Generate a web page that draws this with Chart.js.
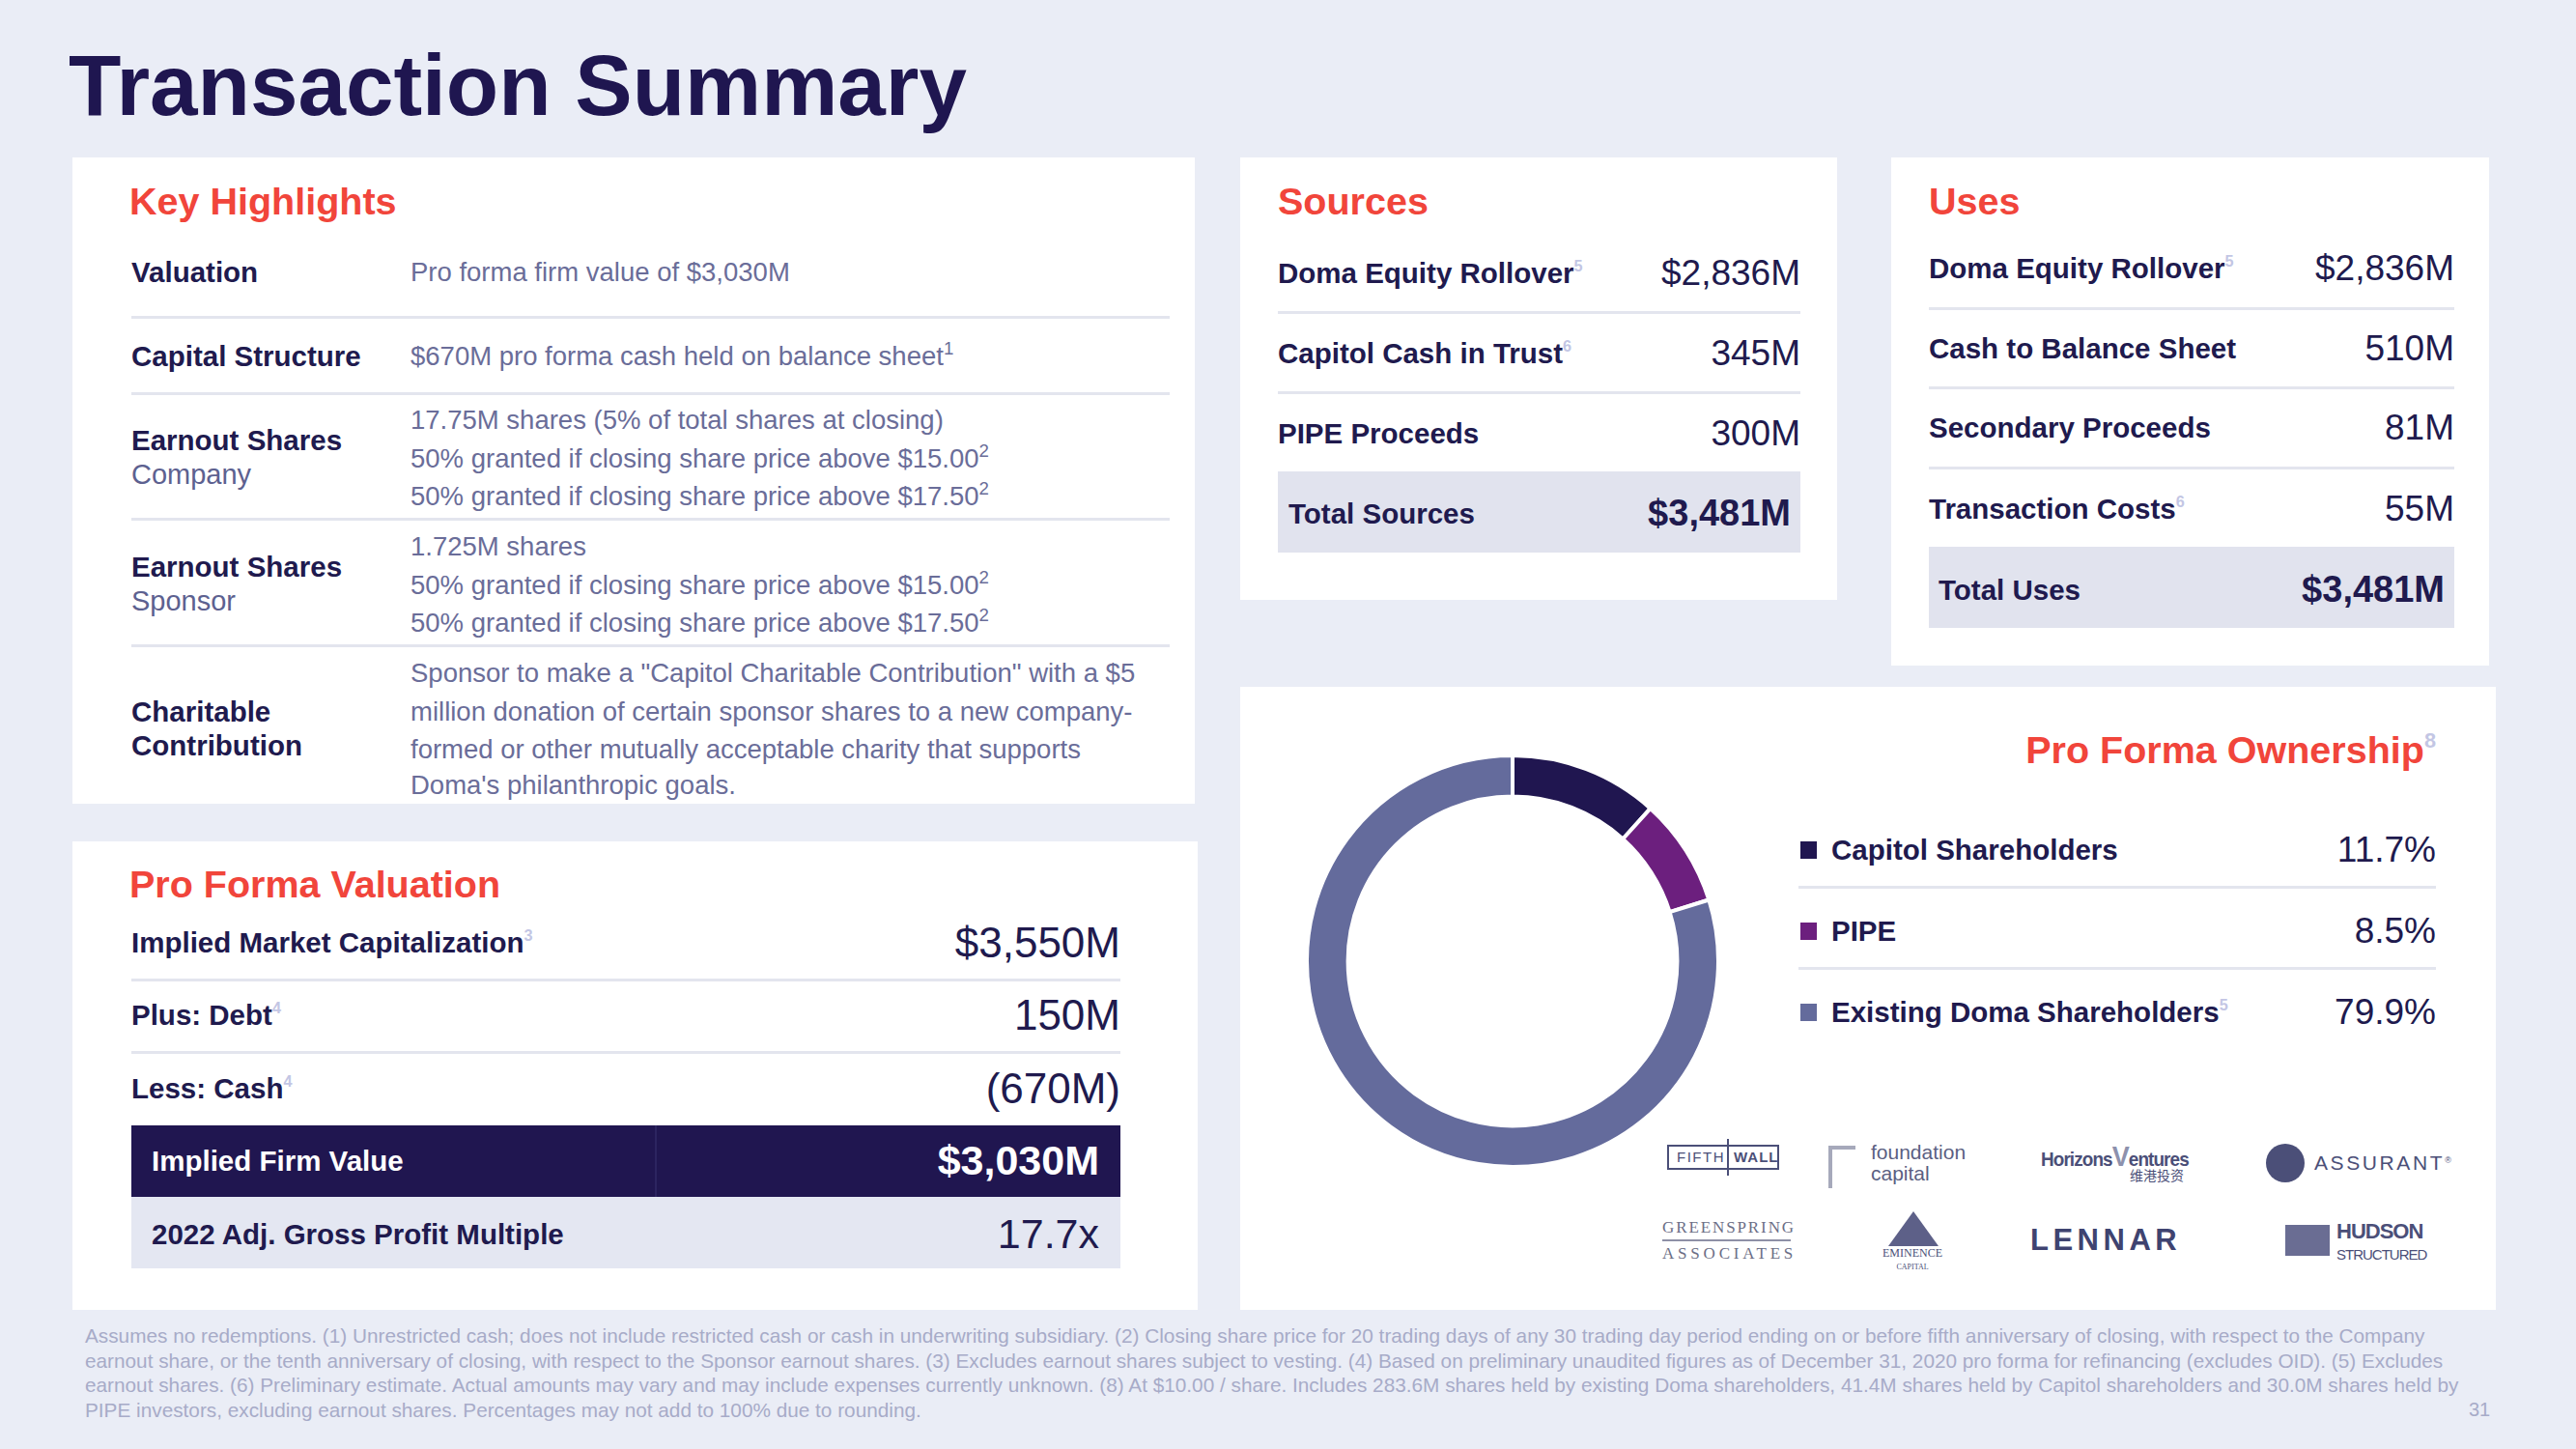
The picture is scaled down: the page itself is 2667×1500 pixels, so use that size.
<!DOCTYPE html>
<html lang="en">
<head>
<meta charset="utf-8">
<title>Transaction Summary</title>
<script src="https://cdn.jsdelivr.net/npm/chart.js@4.4.1/dist/chart.umd.min.js"></script>
<style>
  html, body { margin: 0; padding: 0; }
  body {
    width: 2667px; height: 1500px; position: relative; overflow: hidden;
    background: #eaedf6; color: #201a4e;
    font-family: "Liberation Sans", Arial, sans-serif;
  }
  .t { position: absolute; white-space: nowrap; line-height: 1.15; transform: translateY(-50%); }
  .panel { position: absolute; background: #fff; }
  .hdr { color: #f1453b; font-weight: bold; font-size: 39.5px; }
  .lbl { font-weight: bold; font-size: 29.5px; color: #201a4e; }
  .sub { font-size: 29px; color: #5d6190; }
  .desc { font-size: 27.5px; color: #6a6d99; }
  .desc sup { font-size: 0.68em; vertical-align: 0.6em; }
  .val { font-size: 37px; color: #201a4e; }
  .big { font-size: 44px; color: #201a4e; }
  .sep { position: absolute; height: 3px; background: #e3e5ee; }
  .box { position: absolute; }
  sup { font-size: 0.55em; line-height: 0; vertical-align: 0.75em; }
  sup.fn { color: #c3c6e4; }
  .logo { position: absolute; color: #4b4f78; white-space: nowrap; }
</style>
</head>
<body>

<div class="t" style="left:71px; top:88px; font-size:89px; font-weight:bold; color:#1f1650;">Transaction Summary</div>

<div class="panel" style="left:75px; top:163px; width:1162px; height:669px;"></div>
<div class="panel" style="left:75px; top:871px; width:1165px; height:485px;"></div>
<div class="panel" style="left:1284px; top:163px; width:618px; height:458px;"></div>
<div class="panel" style="left:1958px; top:163px; width:619px; height:526px;"></div>
<div class="panel" style="left:1284px; top:711px; width:1300px; height:645px;"></div>

<div id="layer"></div>

<canvas id="ownChart" width="430" height="430" style="position:absolute; left:1351px; top:780px;"></canvas>

<div class="t" id="footer" style="left:88px; top:1421px; font-size:20.8px; line-height:25.5px; color:#a7abc8; transform-origin:left center; transform:translateY(-50%) scaleX(0.9985);"></div>
<div class="t" style="left:2556px; top:1459px; font-size:20px; color:#a7abc8;">31</div>

<script>
  // Key highlights
  var highlightRows = [
    { label: ["Valuation"], labelSub: [], desc: ["Pro forma firm value of $3,030M"] },
    { label: ["Capital Structure"], labelSub: [], desc: ["$670M pro forma cash held on balance sheet<sup>1</sup>"] },
    { label: ["Earnout Shares"], labelSub: ["Company"], desc: ["17.75M shares (5% of total shares at closing)", "50% granted if closing share price above $15.00<sup>2</sup>", "50% granted if closing share price above $17.50<sup>2</sup>"] },
    { label: ["Earnout Shares"], labelSub: ["Sponsor"], desc: ["1.725M shares", "50% granted if closing share price above $15.00<sup>2</sup>", "50% granted if closing share price above $17.50<sup>2</sup>"] },
    { label: ["Charitable", "Contribution"], labelSub: [], desc: ["Sponsor to make a \"Capitol Charitable Contribution\" with a $5", "million donation of certain sponsor shares to a new company-", "formed or other mutually acceptable charity that supports", "Doma's philanthropic goals."] }
  ];

  // Pro forma valuation
  var valuationLabels = ["Implied Market Capitalization", "Plus: Debt", "Less: Cash"];
  var valuationNotes = ["3", "4", "4"];
  var valuationValues = ["$3,550M", "150M", "(670M)"];
  var firmValueLabel = "Implied Firm Value";
  var firmValue = "$3,030M";
  var multipleLabel = "2022 Adj. Gross Profit Multiple";
  var multipleValue = "17.7x";

  // Sources / uses
  var sourceLabels = ["Doma Equity Rollover", "Capitol Cash in Trust", "PIPE Proceeds"];
  var sourceNotes = ["5", "6", ""];
  var sourceValues = ["$2,836M", "345M", "300M"];
  var sourceTotal = "$3,481M";
  var useLabels = ["Doma Equity Rollover", "Cash to Balance Sheet", "Secondary Proceeds", "Transaction Costs"];
  var useNotes = ["5", "", "", "6"];
  var useValues = ["$2,836M", "510M", "81M", "55M"];
  var useTotal = "$3,481M";

  // Ownership doughnut
  var ownerLabels = ["Capitol Shareholders", "PIPE", "Existing Doma Shareholders"];
  var ownerNotes = ["", "", "5"];
  var ownerValues = [11.7, 8.5, 79.9];
  var ownerColors = ["#201650", "#6c1f7e", "#646b9c"];

  var footnotes = [
    "Assumes no redemptions. (1) Unrestricted cash; does not include restricted cash or cash in underwriting subsidiary. (2) Closing share price for 20 trading days of any 30 trading day period ending on or before fifth anniversary of closing, with respect to the Company",
    "earnout share, or the tenth anniversary of closing, with respect to the Sponsor earnout shares. (3) Excludes earnout shares subject to vesting. (4) Based on preliminary unaudited figures as of December 31, 2020 pro forma for refinancing (excludes OID). (5) Excludes",
    "earnout shares. (6) Preliminary estimate. Actual amounts may vary and may include expenses currently unknown. (8) At $10.00 / share. Includes 283.6M shares held by existing Doma shareholders, 41.4M shares held by Capitol shareholders and 30.0M shares held by",
    "PIPE investors, excluding earnout shares. Percentages may not add to 100% due to rounding."
  ];

  var layer = document.getElementById('layer');

  function txt(x, y, html, cls, alignRight, extra) {
    var d = document.createElement('div');
    d.className = 't ' + (cls || '');
    d.innerHTML = html;
    if (alignRight) d.style.right = (2667 - x) + 'px';
    else d.style.left = x + 'px';
    d.style.top = y + 'px';
    if (extra) d.style.cssText += extra;
    layer.appendChild(d);
    return d;
  }

  function rect(x, y, w, h, color, cls) {
    var d = document.createElement('div');
    d.className = cls || 'box';
    d.style.left = x + 'px';
    d.style.top = y + 'px';
    d.style.width = w + 'px';
    d.style.height = h + 'px';
    d.style.background = color;
    layer.appendChild(d);
    return d;
  }

  function note(n) {
    return n ? '<sup class="fn">' + n + '</sup>' : '';
  }

  // --- Key Highlights panel
  txt(134, 209, "Key Highlights", "hdr");
  var hlLabelY = [[282], [369], [456, 492], [587, 623], [737, 772]];
  var hlDescY = [[282], [369], [435, 475, 514], [566, 606, 645], [697, 737, 776, 813]];
  var hlSepY = [327, 406, 536, 667];
  highlightRows.forEach(function (row, i) {
    var ys = hlLabelY[i];
    var k = 0;
    row.label.forEach(function (s) { txt(136, ys[k++], s, "lbl"); });
    row.labelSub.forEach(function (s) { txt(136, ys[k++], s, "sub"); });
    row.desc.forEach(function (s, j) { txt(425, hlDescY[i][j], s, "desc"); });
  });
  hlSepY.forEach(function (y) { rect(136, y, 1075, 3, "#e3e5ee", "sep"); });

  // --- Pro Forma Valuation panel
  txt(134, 916, "Pro Forma Valuation", "hdr");
  var valY = [976, 1051, 1127];
  valuationLabels.forEach(function (s, i) {
    txt(136, valY[i], s + note(valuationNotes[i]), "lbl");
    txt(1160, valY[i], valuationValues[i], "big", true);
  });
  rect(136, 1013, 1024, 3, "#e3e5ee", "sep");
  rect(136, 1088, 1024, 3, "#e3e5ee", "sep");
  rect(136, 1165, 1024, 74, "#201650");
  rect(678, 1165, 2, 74, "#2c2460");
  rect(136, 1239, 1024, 74, "#e4e7f2");
  txt(157, 1202, firmValueLabel, "lbl", false, "color:#fff;");
  txt(1138, 1202, firmValue, "big", true, "color:#fff; font-weight:bold; font-size:43px;");
  txt(157, 1278, multipleLabel, "lbl");
  txt(1138, 1278, multipleValue, "big", true, "font-size:43px;");

  // --- Sources panel
  txt(1323, 209, "Sources", "hdr");
  var srcY = [283, 366, 449];
  sourceLabels.forEach(function (s, i) {
    txt(1323, srcY[i], s + note(sourceNotes[i]), "lbl");
    txt(1864, srcY[i], sourceValues[i], "val", true);
  });
  rect(1323, 322, 541, 3, "#e3e5ee", "sep");
  rect(1323, 405, 541, 3, "#e3e5ee", "sep");
  rect(1323, 488, 541, 84, "#e1e3ee");
  txt(1334, 532, "Total Sources", "lbl");
  txt(1854, 532, sourceTotal, "val", true, "font-weight:bold; font-size:38px;");

  // --- Uses panel
  txt(1997, 209, "Uses", "hdr");
  var useY = [278, 361, 443, 527];
  useLabels.forEach(function (s, i) {
    txt(1997, useY[i], s + note(useNotes[i]), "lbl");
    txt(2541, useY[i], useValues[i], "val", true);
  });
  rect(1997, 318, 544, 3, "#e3e5ee", "sep");
  rect(1997, 400, 544, 3, "#e3e5ee", "sep");
  rect(1997, 483, 544, 3, "#e3e5ee", "sep");
  rect(1997, 566, 544, 84, "#e1e3ee");
  txt(2007, 611, "Total Uses", "lbl");
  txt(2531, 611, useTotal, "val", true, "font-weight:bold; font-size:38px;");

  // --- Ownership panel
  txt(2522, 777, "Pro Forma Ownership" + note("8"), "hdr", true);
  var ownY = [880, 964, 1048];
  ownerLabels.forEach(function (s, i) {
    rect(1864, ownY[i] - 9, 17, 18, ownerColors[i]);
    txt(1896, ownY[i], s + note(ownerNotes[i]), "lbl");
    txt(2522, ownY[i], ownerValues[i].toFixed(1) + "%", "val", true);
  });
  rect(1862, 917, 660, 3, "#e3e5ee", "sep");
  rect(1862, 1001, 660, 3, "#e3e5ee", "sep");

  // investor logos (approximated as text)
  var logoHtml = [
    '<div class="logo" style="left:1726px; top:1185px; width:112px; height:22px; border:2px solid #4b4f78; font-size:15px; letter-spacing:1.5px; line-height:22px;">' +
      '<span style="position:absolute; left:8px;">FIFTH</span><span style="position:absolute; left:60px; top:-8px; width:2px; height:38px; background:#4b4f78;"></span><span style="position:absolute; left:67px; font-weight:bold; letter-spacing:1px;">WALL</span></div>',
    '<div class="logo" style="left:1893px; top:1186px; width:24px; height:40px; border-left:4px solid #a6a9bb; border-top:4px solid #a6a9bb;"></div>',
    '<div class="logo" style="left:1937px; top:1182px; font-size:21px; line-height:22px; color:#5b5f82;">foundation<br>capital</div>',
    '<div class="logo" style="left:2113px; top:1180px; font-size:21px; font-weight:bold; letter-spacing:-1px; transform:scaleX(0.9); transform-origin:left;">Horizons<span style="font-size:30px; color:#8d91ad;">V</span>entures</div>',
    '<div class="logo" style="left:2205px; top:1208px; font-size:14px; line-height:16px; font-family:\'Noto Sans CJK SC\';">维港投资</div>',
    '<div class="logo" style="left:2346px; top:1184px; width:40px; height:40px; border-radius:50%; background:#4b4f78;"></div>',
    '<div class="logo" style="left:2396px; top:1192px; font-size:21px; letter-spacing:2.6px;">ASSURANT<sup style="font-size:9px;">®</sup></div>',
    '<div class="logo" style="left:1721px; top:1260px; font-size:17px; letter-spacing:1.9px; font-family:\'Liberation Serif\', serif; color:#6b6e86; line-height:22px;">GREENSPRING</div>',
    '<div class="logo" style="left:1721px; top:1283px; width:133px; height:2px; background:#8e90a6;"></div>',
    '<div class="logo" style="left:1721px; top:1287px; font-size:17px; letter-spacing:3.8px; font-family:\'Liberation Serif\', serif; color:#6b6e86; line-height:22px;">ASSOCIATES</div>',
    '<div class="logo" style="left:1955px; top:1254px; width:0; height:0; border-left:26px solid transparent; border-right:26px solid transparent; border-bottom:36px solid #5d6088;"></div>',
    '<div class="logo" style="left:1944px; top:1291px; font-size:12px; font-family:\'Liberation Serif\', serif; line-height:13px; text-align:center; width:72px;">EMINENCE<br><span style="font-size:8px;">CAPITAL</span></div>',
    '<div class="logo" style="left:2102px; top:1266px; font-size:31px; font-weight:bold; letter-spacing:4.5px; color:#3f4370;">LENNAR</div>',
    '<div class="logo" style="left:2366px; top:1268px; width:46px; height:32px; background:#6a6d93;"></div>',
    '<div class="logo" style="left:2419px; top:1264px; font-size:22px; font-weight:bold; letter-spacing:-1px; line-height:22px;">HUDSON<br><span style="font-size:15px; font-weight:normal;">STRUCTURED</span></div>'
  ];
  layer.insertAdjacentHTML('beforeend', logoHtml.join(''));

  document.getElementById('footer').innerHTML = footnotes.join('<br>');

  new Chart(document.getElementById('ownChart'), {
    type: 'doughnut',
    data: {
      labels: ownerLabels,
      datasets: [{
        data: ownerValues,
        backgroundColor: ownerColors,
        borderColor: '#ffffff',
        borderWidth: 4
      }]
    },
    options: {
      responsive: false,
      animation: false,
      cutout: '80%',
      layout: { padding: 0 },
      plugins: {
        legend: { display: false },
        tooltip: { enabled: false }
      }
    }
  });
</script>
</body>
</html>
